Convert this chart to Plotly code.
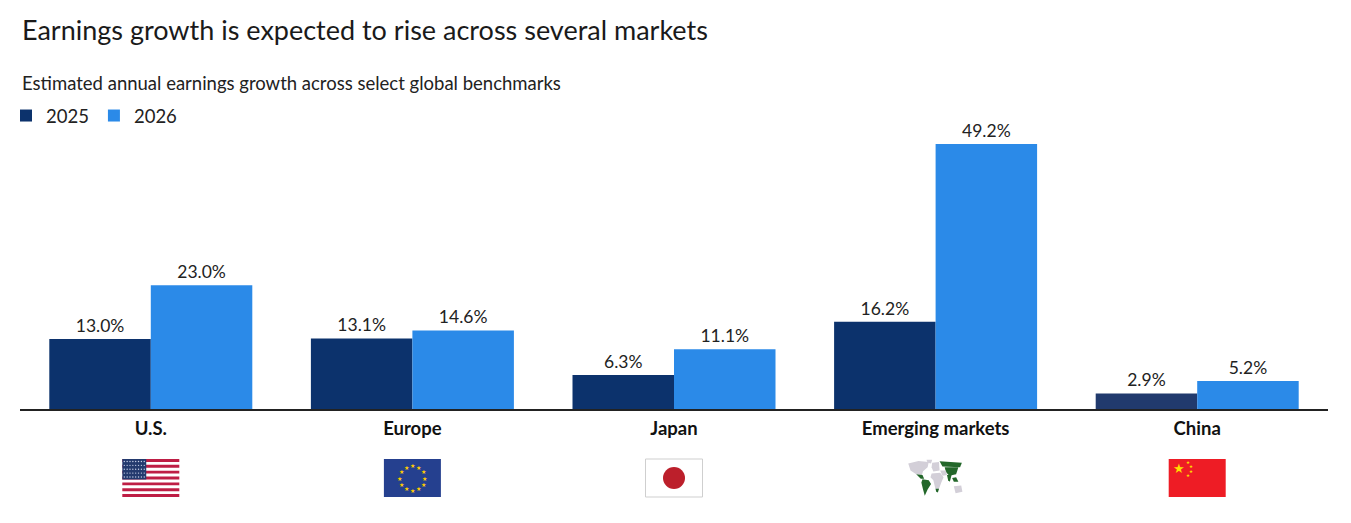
import plotly.graph_objects as go
import math

# ---------------- data ----------------
categories = ["U.S.", "Europe", "Japan", "Emerging markets", "China"]
growth_2025 = [13.0, 13.1, 6.3, 16.2, 2.9]
growth_2026 = [23.0, 14.6, 11.1, 49.2, 5.2]
series_names = ["2025", "2026"]

title_text = "Earnings growth is expected to rise across several markets"
subtitle_text = "Estimated annual earnings growth across select global benchmarks"

# ---------------- layout constants ----------------
W, H = 1351, 523
ML, MR, MT, MB = 20, 23, 129, 114
PW, PH = W - ML - MR, H - MT - MB
FONT = "Lato"

C2025 = ["#0c326c", "#0c326c", "#0c326c", "#0c326c", "#213a6d"]
C2026 = "#2b8ae8"


def px(x, y):
    return (x - ML) / PW, (H - MB - y) / PH


shapes = []
annotations = []


def rect(x0, y0, x1, y1, color, line=None):
    a, b = px(x0, y0)
    c, d = px(x1, y1)
    shapes.append(dict(type="rect", xref="paper", yref="paper", x0=a, y0=b, x1=c, y1=d,
                       fillcolor=color, line=line or dict(width=0), layer="above"))


def circle(cx, cy, r, color, line=None):
    a, b = px(cx - r, cy - r)
    c, d = px(cx + r, cy + r)
    shapes.append(dict(type="circle", xref="paper", yref="paper", x0=a, y0=b, x1=c, y1=d,
                       fillcolor=color, line=line or dict(width=0), layer="above"))


def poly(pts, color):
    s = ""
    for k, (x, y) in enumerate(pts):
        a, b = px(x, y)
        s += ("M" if k == 0 else "L") + f"{a:.5f},{b:.5f} "
    s += "Z"
    shapes.append(dict(type="path", xref="paper", yref="paper", path=s,
                       fillcolor=color, line=dict(width=0), layer="above"))


def star(x, y, size, color):
    a, b = px(x, y)
    annotations.append(dict(x=a, y=b, xref="paper", yref="paper", text="★", showarrow=False,
                            font=dict(size=size, color=color, family="DejaVu Sans"),
                            xanchor="center", yanchor="middle"))


FW, FH, FTOP = 57, 38, 459


def flag_box(i):
    cx = ML + (i + 0.5) * PW / len(categories)
    return cx - FW / 2, FTOP, cx + FW / 2, FTOP + FH


# U.S.
x0, y0, x1, y1 = flag_box(0)
rect(x0, y0, x1, y1, "#ffffff")
sh = FH / 13
for k in range(0, 13, 2):
    rect(x0, y0 + k * sh, x1, y0 + (k + 1) * sh, "#be1e45")
cw, chh = FW * 0.42, sh * 7
rect(x0, y0, x0 + cw, y0 + chh, "#243a6e")
for r in range(5):
    for c in range(8):
        circle(x0 + 2 + c * (cw - 4) / 7, y0 + 2.5 + r * (chh - 5) / 4, 0.7, "#c8d0e8")

# Europe
x0, y0, x1, y1 = flag_box(1)
rect(x0, y0, x1, y1, "#25408f")
ecx, ecy = (x0 + x1) / 2, (y0 + y1) / 2
for k in range(12):
    ang = 2 * math.pi * k / 12
    star(ecx + 12.5 * math.sin(ang), ecy - 12.5 * math.cos(ang), 6, "#ffcc00")

# Japan
x0, y0, x1, y1 = flag_box(2)
rect(x0, y0, x1, y1, "#ffffff", dict(color="#cfcfcf", width=1))
circle((x0 + x1) / 2, (y0 + y1) / 2, 11, "#bc1f2b")

# Emerging markets (simplified world map)
x0, y0, x1, y1 = flag_box(3)


def m(pts, color):
    poly([(x0 + u * FW, y0 + v * FH) for u, v in pts], color)


GREY, GREEN = "#d3cfd8", "#23672a"
m([(0.02, 0.12), (0.2, 0.05), (0.38, 0.08), (0.36, 0.22), (0.28, 0.32), (0.26, 0.42), (0.16, 0.4), (0.06, 0.3)], GREY)
m([(0.34, 0.02), (0.44, 0.02), (0.42, 0.12), (0.36, 0.1)], GREY)
m([(0.16, 0.4), (0.27, 0.42), (0.3, 0.52), (0.24, 0.52)], GREEN)
m([(0.27, 0.53), (0.38, 0.56), (0.42, 0.66), (0.36, 0.8), (0.31, 0.97), (0.28, 0.8), (0.25, 0.62)], GREEN)
m([(0.44, 0.1), (0.56, 0.08), (0.57, 0.3), (0.46, 0.33), (0.43, 0.22)], GREY)
m([(0.43, 0.38), (0.58, 0.36), (0.64, 0.48), (0.6, 0.62), (0.55, 0.82), (0.5, 0.8), (0.46, 0.56), (0.41, 0.48)], GREY)
m([(0.5, 0.78), (0.56, 0.78), (0.54, 0.88), (0.51, 0.86)], GREEN)
m([(0.57, 0.06), (0.96, 0.1), (0.93, 0.22), (0.62, 0.2)], GREEN)
m([(0.66, 0.22), (0.9, 0.22), (0.86, 0.4), (0.74, 0.44), (0.68, 0.34)], GREEN)
m([(0.58, 0.3), (0.68, 0.3), (0.7, 0.42), (0.62, 0.44)], GREY)
m([(0.7, 0.42), (0.78, 0.42), (0.75, 0.6), (0.72, 0.56)], GREEN)
m([(0.79, 0.5), (0.86, 0.48), (0.9, 0.6), (0.82, 0.6)], GREEN)
m([(0.82, 0.72), (0.95, 0.7), (0.97, 0.86), (0.85, 0.9)], GREY)

# China
x0, y0, x1, y1 = flag_box(4)
rect(x0, y0, x1, y1, "#ee1c25")
star(x0 + 10, y0 + 9, 13, "#ffde00")
for dx, dy in [(19, 3.5), (22, 7.5), (22, 12.5), (19, 16)]:
    star(x0 + dx, y0 + dy, 4.5, "#ffde00")

# titles
tx, ty = px(20, 30)
annotations.append(dict(x=tx, y=ty, xref="paper", yref="paper", text=title_text, showarrow=False,
                        xanchor="left", yanchor="middle", font=dict(size=27, color="#1a1a1a", family=FONT)))
sx, sy = px(20, 83)
annotations.append(dict(x=sx, y=sy, xref="paper", yref="paper", text=subtitle_text, showarrow=False,
                        xanchor="left", yanchor="middle", font=dict(size=18.5, color="#222222", family=FONT)))

# ---------------- figure ----------------
fig = go.Figure()
fig.add_trace(go.Bar(name=series_names[0], x=categories, y=growth_2025, marker_color=C2025,
                     marker_line_width=0,
                     texttemplate="%{y:.1f}%", textposition="outside", cliponaxis=False,
                     textfont=dict(size=17.5, color="#222222", family=FONT)))
fig.add_trace(go.Bar(name=series_names[1], x=categories, y=growth_2026, marker_color=C2026,
                     marker_line_width=0,
                     texttemplate="%{y:.1f}%", textposition="outside", cliponaxis=False,
                     textfont=dict(size=17.5, color="#222222", family=FONT)))

lx, ly = px(6, 116)
fig.update_layout(
    width=W, height=H,
    margin=dict(l=ML, r=MR, t=MT, b=MB, autoexpand=False),
    paper_bgcolor="white", plot_bgcolor="white",
    barmode="group", bargap=0.224, bargroupgap=0,
    font=dict(family=FONT, color="#222222"),
    showlegend=True,
    legend=dict(orientation="h", x=lx, y=ly, xanchor="left", yanchor="middle",
                font=dict(size=18.5, color="#222222", family=FONT), traceorder="normal"),
    xaxis=dict(showline=True, linecolor="#222222", linewidth=1.5, ticks="",
               tickfont=dict(size=18.5, color="#111111", family=FONT, weight="bold"),
               ticklabelstandoff=2, showgrid=False, fixedrange=True),
    yaxis=dict(range=[0, 52], visible=False, showgrid=False, fixedrange=True),
    shapes=shapes,
    annotations=annotations,
)

fig.write_html("out.html", config={"displayModeBar": False},
               post_script="document.body.style.margin='0';")
